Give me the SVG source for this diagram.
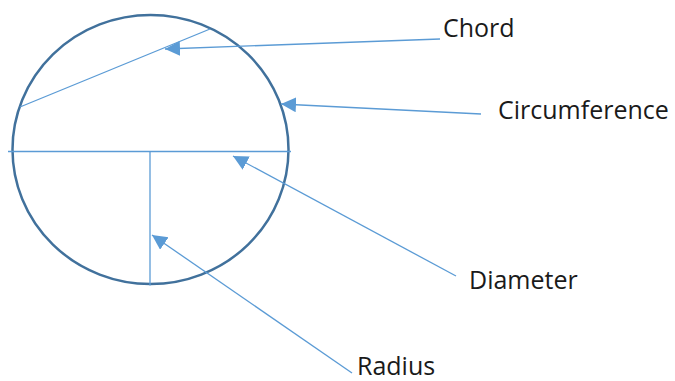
<svg xmlns="http://www.w3.org/2000/svg" width="675" height="381" viewBox="0 0 675 381">
<style>
.circle{fill:none;stroke:#41719C;stroke-width:2.5}
.geo{fill:none;stroke:#5B9BD5;stroke-width:1.3}
.ptr{fill:none;stroke:#5B9BD5;stroke-width:1.3;marker-end:url(#arr)}
.lbl{font-family:"Open Sans","Liberation Sans",sans-serif;font-size:25px;fill:#1a1a1a}
</style>
<defs>
<marker id="arr" markerUnits="userSpaceOnUse" markerWidth="16" markerHeight="16" refX="15" refY="7.5" orient="auto">
<path d="M0,0 L15,7.5 L0,15 Z" fill="#5B9BD5"/>
</marker>
</defs>
<g id="circle">
<ellipse class="circle" cx="150.5" cy="149.5" rx="138" ry="134.5"/>
</g>
<g id="chord"><line class="geo" x1="20" y1="107" x2="210" y2="29"/></g>
<g id="diameter"><line class="geo" x1="8" y1="151.5" x2="291" y2="151.5"/></g>
<g id="radius"><line class="geo" x1="150" y1="151.5" x2="150" y2="285.5"/></g>
<g id="connectors">
<line class="ptr" x1="440" y1="39" x2="165" y2="49"/>
<line class="ptr" x1="481" y1="114" x2="281" y2="104"/>
<line class="ptr" x1="456" y1="276" x2="233" y2="156"/>
<line class="ptr" x1="352" y1="373" x2="152" y2="235"/>
</g>
<g id="label-chord"><text class="lbl" x="443" y="37">Chord</text></g>
<g id="label-circumference"><text class="lbl" x="498" y="119">Circumference</text></g>
<g id="label-diameter"><text class="lbl" x="469" y="289">Diameter</text></g>
<g id="label-radius"><text class="lbl" x="357" y="375">Radius</text></g>
</svg>
